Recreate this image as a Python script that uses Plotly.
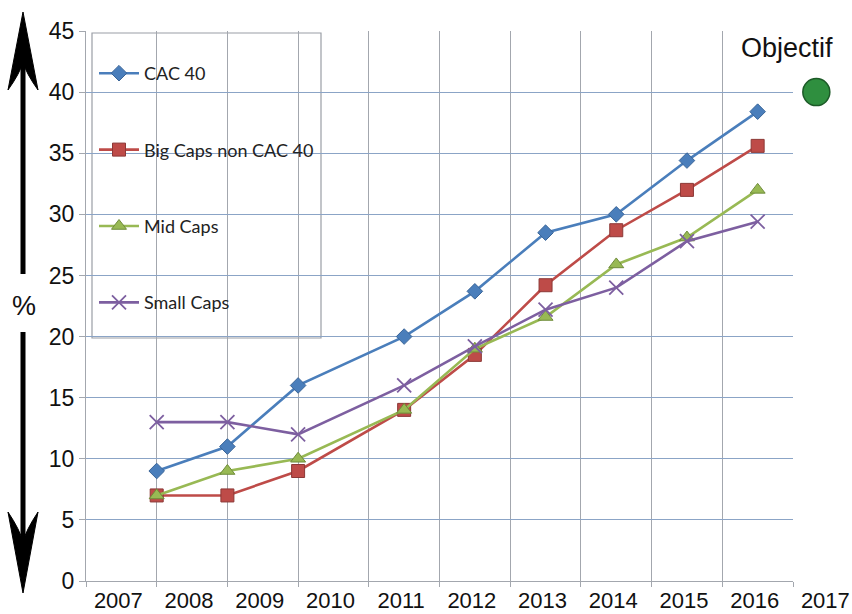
import plotly.graph_objects as go

# ---------------- data ----------------
years_cat = [2007.5, 2008.5, 2009.5, 2011, 2012, 2013, 2014, 2015, 2016]
cac40 = [9, 11, 16, 20, 23.7, 28.5, 30, 34.4, 38.4]
big_caps = [7, 7, 9, 14, 18.5, 24.2, 28.7, 32, 35.6]
mid_caps = [7, 9, 10, 14, 19, 21.6, 25.9, 28.1, 32]
small_caps = [13, 13, 12, 16, 19.2, 22.2, 24, 27.8, 29.4]
series_names = ["CAC 40", "Big Caps non CAC 40", "Mid Caps", "Small Caps"]
objectif_x = [2016.83]
objectif_y = [40]
objectif_label = "Objectif"
year_labels = [2007, 2008, 2009, 2010, 2011, 2012, 2013, 2014, 2015, 2016, 2017]
y_ticks = [0, 5, 10, 15, 20, 25, 30, 35, 40, 45]

# ---------------- layout geometry ----------------
W, H = 852, 614
L, T, B = 86, 31, 581      # plot area (pixels)
R_GRID = 793               # right end of the gridded area
R_ALL = 848                # right end of the full area
X0, X1 = 2006.5, 2016.5

def px(x):
    return (x - L) / (R_ALL - L)

def py(y):
    return (B - y) / (B - T)

per_year = (R_GRID - L) / (X1 - X0)
x2_max = X0 + (R_ALL - L) / per_year

colors = ["#4a7ebb", "#be4b48", "#98b954", "#7d5fa0"]
edge = ["#3a6598", "#8c3836", "#6f8c3a", "#5d4680"]
symbols = ["diamond", "square", "triangle-up", "x-thin-open"]
sizes = [12, 13, 13, 14]

fig = go.Figure()
for i, (name, vals) in enumerate(zip(series_names, [cac40, big_caps, mid_caps, small_caps])):
    if symbols[i] == "x-thin-open":
        marker = dict(symbol=symbols[i], size=sizes[i], color=colors[i],
                      line=dict(width=1.8, color=colors[i]))
    else:
        marker = dict(symbol=symbols[i], size=sizes[i], color=colors[i],
                      line=dict(width=1, color=edge[i]))
    fig.add_trace(go.Scatter(
        x=years_cat, y=vals, name=name, mode="lines+markers",
        line=dict(color=colors[i], width=2.6), marker=marker,
        legendgroup=name, xaxis="x", yaxis="y",
    ))

fig.add_trace(go.Scatter(
    x=objectif_x, y=objectif_y, mode="markers", showlegend=False,
    marker=dict(size=27, color="#2f8f3f", line=dict(width=1.5, color="#1c5a27")),
    xaxis="x2", yaxis="y2",
))

grid_v = "#a3a7ae"
grid_h = "#8ba4c6"
tick_font = dict(family="Liberation Sans, Arial, sans-serif", size=22, color="#111111")

fig.update_layout(
    width=W, height=H,
    margin=dict(l=L, r=W - R_ALL, t=T, b=H - B, pad=0, autoexpand=False),
    paper_bgcolor="white", plot_bgcolor="rgba(0,0,0,0)",
    font=dict(family="Liberation Sans, Arial, sans-serif", color="#111111"),
    showlegend=True,
    legend=dict(
        x=px(94), y=py(55), xanchor="left", yanchor="top",
        bgcolor="rgba(0,0,0,0)", borderwidth=0,
        font=dict(family="Lato, Calibri, sans-serif", size=18, color="#222222"),
        tracegroupgap=50, itemwidth=40,
    ),
    xaxis=dict(
        domain=[0, (R_GRID - L) / (R_ALL - L)],
        range=[X0, X1], anchor="y",
        tickmode="array", tickvals=year_labels, showticklabels=False,
        ticks="", showgrid=False, zeroline=False, automargin=False,
        showline=True, linecolor=grid_v, linewidth=1.2,
        minor=dict(tickvals=[y + 0.5 for y in range(2006, 2017)], showgrid=True,
                   gridcolor=grid_v, gridwidth=1.3, ticks="outside",
                   ticklen=5, tickcolor=grid_v, tickwidth=1.2),
        fixedrange=True,
    ),
    yaxis=dict(
        range=[0, 45], tickmode="array", tickvals=y_ticks, anchor="x",
        showgrid=True, gridcolor=grid_h, gridwidth=1.3, zeroline=False,
        showline=True, linecolor=grid_v, linewidth=1.2, automargin=False,
        ticks="outside", ticklen=6, tickcolor=grid_v, tickwidth=1.2,
        tickfont=dict(family="Liberation Sans, Arial, sans-serif", size=23, color="#111111"),
        ticklabelstandoff=0,
        fixedrange=True,
    ),
    xaxis2=dict(
        domain=[0, 1], range=[X0, x2_max], anchor="y2",
        tickmode="array", tickvals=year_labels,
        ticktext=[str(v) for v in year_labels],
        ticks="", showgrid=False, zeroline=False, showline=False,
        automargin=False, tickfont=tick_font, ticklabelstandoff=4,
        ticklabelshift=-3, ticklabeloverflow="allow",
        fixedrange=True,
    ),
    yaxis2=dict(
        domain=[0, 1], range=[0, 45], anchor="x2", visible=False,
        showgrid=False, zeroline=False, automargin=False, fixedrange=True,
    ),
)

# legend frame (covers the grid like the original opaque legend)
fig.add_shape(type="rect", xref="paper", yref="paper",
              x0=px(92), x1=px(321), y0=py(338), y1=py(33),
              line=dict(color="#9a9ea6", width=1.2), fillcolor="white", layer="between")

# Objectif label
fig.add_annotation(x=px(787), y=py(48), xref="paper", yref="paper", text=objectif_label,
                   showarrow=False, xanchor="center", yanchor="middle",
                   font=dict(family="Liberation Sans, Arial, sans-serif", size=27, color="#111111"))

# "%" label and double arrow on the left
fig.add_annotation(x=px(24), y=py(306), xref="paper", yref="paper", text="%",
                   showarrow=False, xanchor="center", yanchor="middle",
                   font=dict(family="Liberation Sans, Arial, sans-serif", size=27, color="#111111"))

ax = 23
fig.add_shape(type="line", xref="paper", yref="paper",
              x0=px(ax), x1=px(ax), y0=py(60), y1=py(274),
              line=dict(color="black", width=5))
fig.add_shape(type="line", xref="paper", yref="paper",
              x0=px(ax), x1=px(ax), y0=py(332), y1=py(545),
              line=dict(color="black", width=5))

def head(tip_y, barb_y, notch_y):
    mid = (barb_y + notch_y) / 2 - (barb_y - notch_y) * 0.1
    s = "M {} {}".format(px(ax), py(tip_y))
    s += " L {} {}".format(px(ax - 15), py(barb_y))
    s += " Q {} {} {} {}".format(px(ax - 3), py(mid), px(ax), py(notch_y))
    s += " Q {} {} {} {}".format(px(ax + 3), py(mid), px(ax + 15), py(barb_y))
    return s + " Z"

fig.add_shape(type="path", xref="paper", yref="paper", path=head(12, 90, 62),
              fillcolor="black", line=dict(color="black", width=1))
fig.add_shape(type="path", xref="paper", yref="paper", path=head(593, 512, 542),
              fillcolor="black", line=dict(color="black", width=1))

fig.write_html("out.html", config={"displayModeBar": False},
               post_script="document.body.style.margin='0px';document.body.style.overflow='hidden';")
